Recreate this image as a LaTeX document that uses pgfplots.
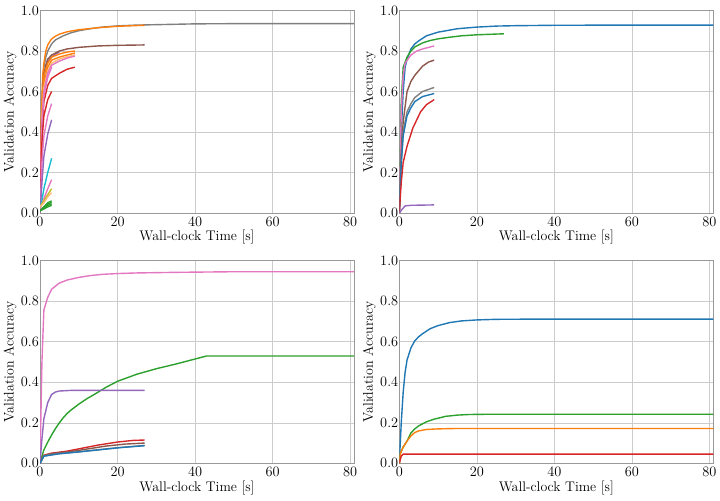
\documentclass[border=0pt]{standalone}
\usepackage{pgfplots}
\pgfplotsset{compat=1.18}
\definecolor{C0}{HTML}{1F77B4}
\definecolor{C1}{HTML}{FF7F0E}
\definecolor{C2}{HTML}{2CA02C}
\definecolor{C3}{HTML}{D62728}
\definecolor{C4}{HTML}{9467BD}
\definecolor{C5}{HTML}{8C564B}
\definecolor{C6}{HTML}{E377C2}
\definecolor{C7}{HTML}{7F7F7F}
\definecolor{C8}{HTML}{BCBD22}
\definecolor{C9}{HTML}{17BECF}
\definecolor{C1l}{HTML}{FFBB78}
\pgfplotsset{
  panel/.style={
    scale only axis, width=314bp, height=202.5bp,
    xmin=0, xmax=81, ymin=0, ymax=1,
    xtick={0,20,40,60,80}, ytick={0,0.2,0.4,0.6,0.8,1.0},
    yticklabel style={xshift=2.4bp, /pgf/number format/.cd, fixed, fixed zerofill, precision=1},
    xticklabel style={yshift=-0.6bp},
    grid=major, grid style={color=black!20, line width=0.6pt},
    axis line style={color=black!40, line width=0.7pt},
    major tick length=0pt,
    tick label style={font=\fontsize{14.5}{16}\selectfont},
    label style={font=\fontsize{14}{16}\selectfont},
    xlabel={Wall-clock Time [s]}, ylabel={Validation Accuracy},
    xlabel style={at={(axis description cs:0.5,0)}, anchor=north, yshift=-14bp},
    ylabel style={at={(axis description cs:-0.0955,0.5)}, anchor=center},
    every axis plot/.append style={line width=1.4pt, no markers},
    anchor=south west,
  }
}
\begin{document}
\begin{tikzpicture}
\useasboundingbox (0,0) rectangle (720bp,501bp);
% ---------------- top-left ----------------
\begin{axis}[panel, at={(40bp,288bp)}]
\addplot[C7] coordinates {(0,0)(0.3,0.4)(0.7,0.65)(1,0.72)(1.5,0.77)(2,0.8)(3,0.835)(4,0.855)(5,0.865)(6,0.875)(8,0.89)(10,0.9)(13,0.91)(16,0.918)(20,0.924)(25,0.928)(30,0.93)(40,0.934)(50,0.935)(60,0.935)(81,0.935)};
\addplot[C1] coordinates {(0,0)(0.3,0.45)(0.7,0.68)(1,0.74)(1.5,0.8)(2,0.83)(3,0.86)(4,0.873)(5,0.883)(7,0.895)(10,0.905)(15,0.915)(20,0.922)(27,0.927)};
\addplot[C4] coordinates {(0,0)(0.3,0.38)(0.7,0.6)(1,0.67)(1.5,0.72)(2,0.75)(3,0.77)(4,0.785)(5,0.795)};
\addplot[C5] coordinates {(0,0)(0.3,0.4)(0.7,0.6)(1,0.68)(1.5,0.73)(2,0.76)(3,0.78)(5,0.8)(7,0.81)(10,0.818)(15,0.825)(20,0.828)(27,0.83)};
\addplot[C1] coordinates {(0,0)(0.5,0.55)(1,0.68)(2,0.74)(3,0.77)(5,0.785)(7,0.795)(9,0.80)};
\addplot[C1] coordinates {(0,0)(0.5,0.5)(1,0.64)(2,0.72)(3,0.755)(5,0.77)(7,0.78)(9,0.79)};
\addplot[C1l] coordinates {(0,0)(0.5,0.47)(1,0.62)(2,0.7)(3,0.74)(5,0.76)(7,0.772)(9,0.78)};
\addplot[C6] coordinates {(0,0)(0.5,0.45)(1,0.6)(2,0.69)(3,0.73)(5,0.75)(7,0.765)(9,0.775)};
\addplot[C3] coordinates {(0,0)(0.5,0.4)(1,0.55)(2,0.63)(3,0.665)(5,0.69)(7,0.71)(9,0.72)};
\addplot[C6] coordinates {(0,0)(0.5,0.42)(1,0.58)(2,0.67)(3,0.72)};
\addplot[C3] coordinates {(0,0)(0.5,0.35)(1,0.48)(2,0.56)(3,0.6)};
\addplot[C6] coordinates {(0,0)(0.5,0.25)(1,0.38)(2,0.48)(3,0.54)};
\addplot[C4] coordinates {(0,0)(0.5,0.15)(1,0.28)(2,0.39)(3,0.46)};
\addplot[C9] coordinates {(0,0.02)(0.5,0.06)(1,0.12)(2,0.2)(3,0.27)};
\addplot[C6] coordinates {(0,0.02)(1,0.07)(2,0.12)(3,0.165)};
\addplot[C8] coordinates {(0,0.03)(1,0.06)(2,0.09)(3,0.12)};
\addplot[C1l] coordinates {(0,0.03)(1,0.05)(2,0.08)(3,0.1)};
\addplot[C2] coordinates {(0,0.01)(1,0.03)(2,0.05)(3,0.06)};
\addplot[C2] coordinates {(0,0.01)(1,0.03)(2,0.045)(3,0.052)};
\addplot[C2] coordinates {(0,0.01)(1,0.025)(2,0.038)(3,0.045)};
\addplot[C2] coordinates {(0,0.01)(1,0.02)(2,0.03)(3,0.038)};
\end{axis}
% ---------------- top-right ----------------
\begin{axis}[panel, at={(399.3bp,288bp)}]
\addplot[C0] coordinates {(0,0)(0.5,0.4)(1,0.6)(1.5,0.72)(2,0.76)(3,0.81)(4,0.835)(5,0.85)(7,0.875)(10,0.893)(15,0.91)(20,0.918)(25,0.923)(30,0.925)(40,0.927)(60,0.928)(81,0.928)};
\addplot[C2] coordinates {(0,0)(0.5,0.55)(1,0.72)(2,0.77)(3,0.8)(4,0.82)(6,0.84)(8,0.852)(10,0.86)(13,0.868)(16,0.875)(20,0.88)(27,0.885)};
\addplot[C6] coordinates {(0,0)(0.5,0.5)(1,0.68)(1.5,0.74)(3,0.78)(4.5,0.8)(6,0.81)(9,0.825)};
\addplot[C5] coordinates {(0,0)(0.5,0.3)(1,0.45)(2,0.6)(3,0.65)(4,0.68)(6,0.725)(7.5,0.745)(9,0.755)};
\addplot[C7] coordinates {(0,0)(0.5,0.25)(1,0.4)(2,0.5)(3,0.54)(4,0.57)(6,0.6)(9,0.62)};
\addplot[C0] coordinates {(0,0)(0.5,0.24)(1,0.38)(2,0.48)(3,0.52)(4,0.55)(6,0.575)(9,0.59)};
\addplot[C3] coordinates {(0,0)(0.5,0.15)(1,0.25)(2,0.33)(3.5,0.42)(5.5,0.5)(7,0.535)(9,0.56)};
\addplot[C4] coordinates {(0,0)(0.8,0.02)(1.5,0.035)(3,0.038)(9,0.04)};
\end{axis}
% ---------------- bottom-left ----------------
\begin{axis}[panel, at={(40bp,37.7bp)}]
\addplot[C6] coordinates {(0,0)(0.5,0.5)(1,0.757)(2,0.82)(3,0.86)(5,0.89)(7,0.905)(10,0.918)(13,0.927)(16,0.933)(20,0.937)(25,0.94)(35,0.943)(50,0.946)(81,0.946)};
\addplot[C2] coordinates {(0,0)(0.5,0.035)(1,0.066)(2,0.105)(3,0.14)(4,0.172)(5,0.2)(6,0.225)(7,0.246)(8,0.263)(10,0.292)(12,0.318)(14,0.34)(17,0.375)(20,0.405)(25,0.44)(30,0.467)(35,0.49)(40,0.515)(43,0.53)(81,0.53)};
\addplot[C4] coordinates {(0,0)(0.5,0.12)(1,0.22)(2,0.3)(3,0.34)(4,0.352)(5,0.357)(8,0.36)(27,0.36)};
\addplot[C3] coordinates {(0,0)(1,0.04)(3,0.05)(7,0.06)(11,0.075)(15,0.09)(20,0.105)(24,0.113)(27,0.115)};
\addplot[C5] coordinates {(0,0)(1,0.038)(3,0.048)(7,0.055)(12,0.07)(17,0.085)(22,0.095)(27,0.1)};
\addplot[C7] coordinates {(0,0)(1,0.036)(4,0.046)(9,0.055)(14,0.065)(20,0.077)(27,0.088)};
\addplot[C0] coordinates {(0,0)(1,0.035)(5,0.047)(10,0.056)(15,0.066)(21,0.078)(27,0.087)};
\end{axis}
% ---------------- bottom-right ----------------
\begin{axis}[panel, at={(399.3bp,37.7bp)}]
\addplot[C0] coordinates {(0,0)(0.5,0.2)(1,0.35)(1.5,0.45)(2,0.51)(3,0.57)(4,0.605)(5,0.625)(6,0.64)(8,0.665)(10,0.68)(13,0.695)(16,0.703)(20,0.708)(25,0.711)(35,0.712)(81,0.712)};
\addplot[C2] coordinates {(0,0)(0.3,0.05)(1,0.08)(2,0.11)(3,0.15)(4,0.17)(5,0.185)(7,0.205)(9,0.218)(12,0.232)(15,0.238)(18,0.241)(22,0.242)(81,0.242)};
\addplot[C1] coordinates {(0,0)(0.3,0.05)(1,0.08)(2,0.11)(3,0.135)(4,0.152)(5,0.16)(7,0.167)(10,0.17)(15,0.172)(81,0.172)};
\addplot[C3] coordinates {(0,0)(0.5,0.035)(1,0.045)(81,0.045)};
\end{axis}
\end{tikzpicture}
\end{document}
